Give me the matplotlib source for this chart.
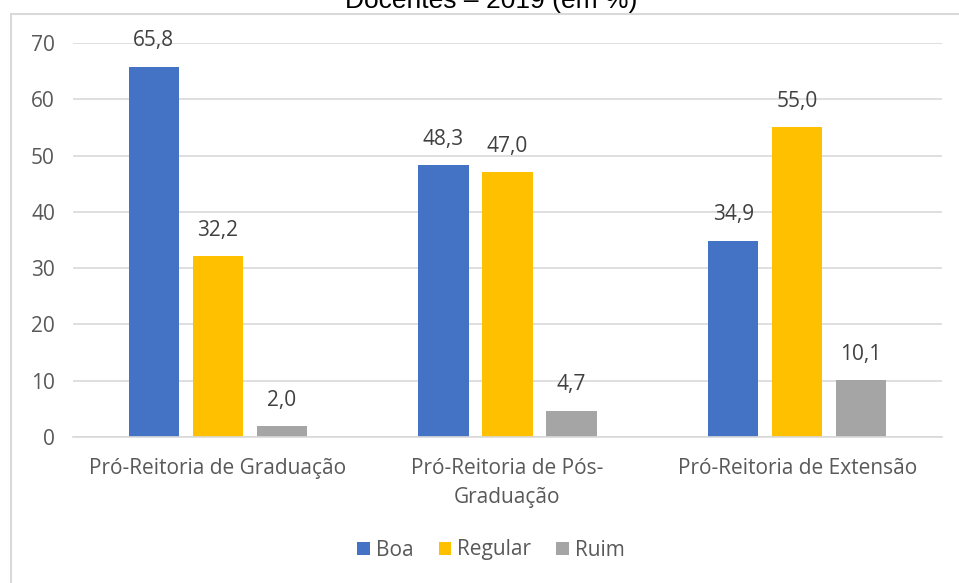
import matplotlib.pyplot as plt
import numpy as np
from matplotlib.patches import Rectangle

categorias = ['Pró-Reitoria de Graduação', 'Pró-Reitoria de Pós-\nGraduação', 'Pró-Reitoria de Extensão']
series = ['Boa', 'Regular', 'Ruim']
boa = [65.8, 48.3, 34.9]
regular = [32.2, 47.0, 55.0]
ruim = [2.0, 4.7, 10.1]
cores = ['#4472C4', '#FFC000', '#A5A5A5']
titulo = 'Docentes – 2019 (em %)'

plt.rcParams['font.family'] = ['Open Sans', 'DejaVu Sans']
txt = '#595959'
fs = 15

fig = plt.figure(figsize=(9.59, 5.83), dpi=100)
W, H = 959, 583
ax = fig.add_axes([73 / W, 1 - 437 / H, (942 - 73) / W, (437 - 43) / H])

# moldura do grafico (cortada pela imagem)
fig.patches.append(Rectangle((11 / W, -0.5), 1.5, 1 - 14 / H + 0.5, transform=fig.transFigure,
                             fill=False, edgecolor='#d9d9d9', lw=1.5))
fig.text(0.512, 1 - 8 / H, titulo, family=['Liberation Sans'], fontsize=19, color='black',
         ha='center', va='baseline')

x = np.arange(len(categorias))
w = 0.173
step = 0.221
for i, (nome, vals) in enumerate(zip(series, [boa, regular, ruim])):
    pos = x + (i - 1) * step
    ax.bar(pos, vals, w, color=cores[i], label=nome, zorder=2)
    for p, v in zip(pos, vals):
        ax.annotate(f'{v:.1f}'.replace('.', ','), (p, v), xytext=(0, 18.5),
                    textcoords='offset points', ha='center', va='center',
                    fontsize=fs, color='#404040')

ax.set_xlim(-0.5, 2.5)
ax.set_ylim(0, 70)
ax.set_yticks(range(0, 71, 10))
ax.yaxis.grid(True, color='#d9d9d9', lw=1.2, zorder=0)
for s in ['top', 'right', 'left']:
    ax.spines[s].set_visible(False)
ax.spines['bottom'].set_color('#d9d9d9')
ax.spines['bottom'].set_linewidth(1.2)
ax.tick_params(axis='both', length=0, labelsize=fs, colors=txt)
ax.tick_params(axis='x', pad=15)
ax.tick_params(axis='y', pad=13)
ax.set_xticks(x)
ax.set_xticklabels(categorias, linespacing=1.5)

fig.legend(loc='center', bbox_to_anchor=(0.512, 1 - 550 / H), ncol=3, frameon=False,
           fontsize=fs, labelcolor=txt, handlelength=0.6, handleheight=0.6,
           handletextpad=0.3, columnspacing=1.2)

plt.savefig('out.png', dpi=100)
